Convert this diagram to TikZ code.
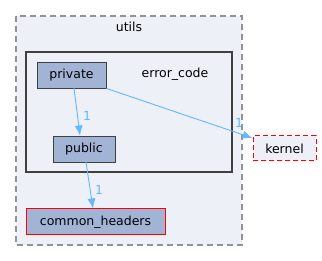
\documentclass[tikz,border=0pt]{standalone}
\usepackage{fontspec}
\setmainfont{DejaVu Sans}
\usetikzlibrary{arrows.meta}
\definecolor{clfill}{HTML}{EDF0F7}
\definecolor{nodefill}{HTML}{A2B4D6}
\definecolor{edgec}{HTML}{63B8FF}
\definecolor{dgray}{HTML}{404040}
\definecolor{redc}{HTML}{FF0000}
\begin{document}
\begin{tikzpicture}[x=1pt,y=-1pt,
  every node/.style={font=\fontsize{12.5}{14}\selectfont, inner sep=0pt},
  dirbox/.style={draw=dgray, fill=nodefill, line width=0.9pt},
  edge/.style={draw=edgec, line width=0.9pt, -{Latex[length=10pt,width=8pt]}},
  elabel/.style={text=edgec, font=\fontsize{12.5}{14}\selectfont}]
\useasboundingbox (0,0) rectangle (322,261);
% utils cluster
\draw[draw=gray!85, fill=clfill, dash pattern=on 6pt off 4pt, line width=1.2pt] (16,16) rectangle (242,245);
\node (utilslbl) at (129,27) {utils};
% error_code cluster
\draw[draw=dgray, fill=clfill, line width=2.2pt] (26,52) rectangle (232,172);
\node (eclbl) at (175,74) {error\_code};
% nodes
\node[dirbox, minimum width=69pt, minimum height=26pt] (private) at (71.5,75) {private};
\node[dirbox, minimum width=62pt, minimum height=26pt] (public) at (84,149) {public};
\node[draw=redc, fill=nodefill, line width=1pt, minimum width=139pt, minimum height=26pt] (common) at (95.5,222) {common\_headers};
\node[draw=redc, fill=clfill, dash pattern=on 5pt off 3pt, line width=1pt, minimum width=63pt, minimum height=25pt] (kernel) at (284.5,148.5) {kernel};
% edges
\draw[edge] (74,88) -- (public.north -| 80,0);
\draw[edge] (private.south east) -- (kernel.north west |- 0,138);
\draw[edge] (86,162) -- (common.north -| 93,0);
\node[elabel] (l1) at (87,116) {1};
\node[elabel] (l2) at (239,123) {1};
\node[elabel] (l3) at (99,190) {1};
\end{tikzpicture}
\end{document}
